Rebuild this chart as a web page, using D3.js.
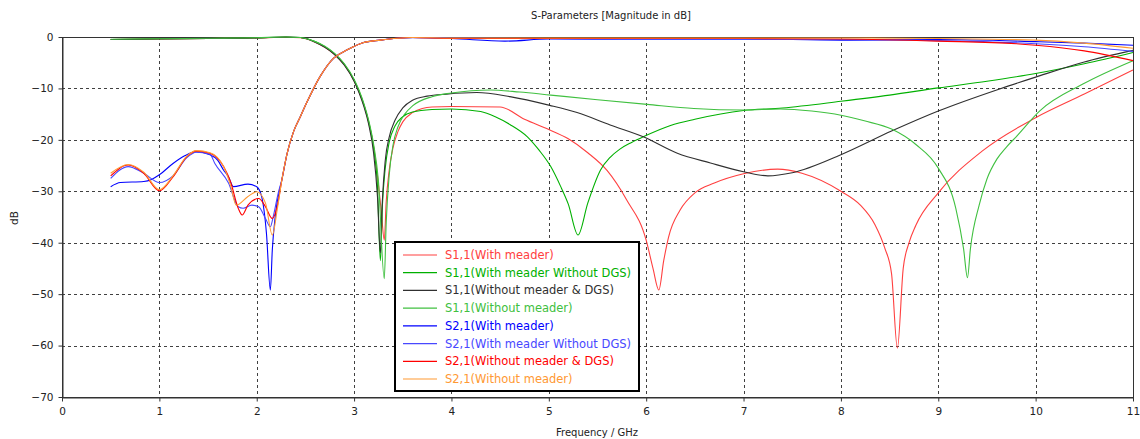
<!DOCTYPE html>
<html>
<head>
<meta charset="utf-8">
<script src="https://cdn.jsdelivr.net/npm/d3@7/dist/d3.min.js"></script>
<style>
  html, body { margin: 0; padding: 0; background: #fff; }
  svg { display: block; font-family: "DejaVu Sans", Verdana, sans-serif; }
</style>
</head>
<body>
<svg id="chart" width="1140" height="439"></svg>
<script>
// ---------- data (frequency GHz, magnitude dB) ----------
const xTicks = [0,1,2,3,4,5,6,7,8,9,10,11];
const yTicks = [0,-10,-20,-30,-40,-50,-60,-70];

const seriesNames = [
  "S1,1(With meader)",
  "S1,1(With meader Without DGS)",
  "S1,1(Without meader & DGS)",
  "S1,1(Without meader)",
  "S2,1(With meader)",
  "S2,1(With meader Without DGS)",
  "S2,1(Without meader & DGS)",
  "S2,1(Without meader)"
];
const seriesColors = ["#ff4040","#00b000","#303030","#40c040","#0000ff","#4848ff","#ff0000","#ff9933"];

const s11WithMeader = [
  [0.5,-0.5],[1.0,-0.4],[1.5,-0.3],[2.0,-0.2],[2.3,-0.05],[2.45,-0.15],[2.6,-1.0],[2.7,-2.0],[2.8,-3.4],
  [2.9,-5.4],[3.0,-8.5],[3.05,-10.6],[3.1,-13.2],[3.15,-16.6],[3.2,-21.2],[3.24,-27],[3.28,-34],[3.31,-39.5],
  [3.33,-32],[3.36,-26],[3.4,-21.5],[3.45,-18.4],[3.5,-16.5],[3.6,-14.7],[3.7,-13.9],[3.8,-13.6],[4.0,-13.5],
  [4.5,-13.6],[4.75,-16],[5.0,-18],[5.2,-19.8],[5.4,-22.5],
  [5.6,-26],[5.8,-31.7],[6.0,-39.5],[6.07,-45],[6.13,-49.2],[6.18,-43.5],[6.23,-38.9],[6.35,-33.6],
  [6.5,-30.3],[6.7,-28.4],[7.0,-26.6],[7.35,-25.7],[7.6,-26.5],[8.0,-30],[8.2,-32.7],[8.35,-36.5],
  [8.45,-41],[8.52,-46],[8.58,-60.5],[8.64,-45],[8.7,-40],[8.77,-36.6],[9.0,-30.3],[9.45,-22.2],
  [10.0,-15.7],[10.5,-11.1],[11.0,-6.4]
];
const s11WithMeaderNoDGS = [
  [0.5,-0.5],[1.0,-0.35],[1.5,-0.3],[2.0,-0.15],[2.3,0],[2.45,-0.1],[2.6,-0.9],[2.7,-1.9],[2.8,-3.3],
  [2.9,-5.3],[3.0,-8.4],[3.05,-10.5],[3.1,-13.1],[3.15,-16.5],[3.2,-21.5],[3.24,-29],[3.27,-43.5],
  [3.29,-33],[3.32,-25.5],[3.36,-20.5],[3.42,-17.3],[3.5,-15.5],[3.6,-14.6],[3.8,-14.1],[4.0,-14.0],
  [4.3,-14.5],[4.45,-15.5],[4.6,-17],[4.78,-19.4],
  [4.9,-22],[5.02,-25.2],[5.12,-29],[5.2,-32.5],[5.3,-38.5],[5.4,-32.3],[5.53,-25.9],[5.63,-23.4],
  [5.73,-21.8],[5.85,-20.5],[5.97,-19.4],[6.25,-17.2],[6.5,-16],[7.0,-14.3],[7.4,-13.8],[8.0,-12.5],
  [8.5,-11.3],[9.0,-9.9],[9.5,-8.6],[10.0,-7.1],[10.5,-5.2],[11.0,-3.0]
];
const s11WithoutMeaderDGS = [
  [0.5,-0.5],[1.0,-0.4],[1.5,-0.3],[2.0,-0.2],[2.3,0],[2.45,-0.1],[2.6,-1.0],[2.7,-2.0],[2.8,-3.4],
  [2.9,-5.5],[3.0,-8.6],[3.05,-10.8],[3.1,-13.5],[3.15,-17],[3.2,-22.5],[3.24,-31],[3.27,-42],
  [3.29,-32],[3.32,-24],[3.36,-19.5],[3.42,-16.2],[3.5,-13.8],[3.6,-12.3],[3.75,-11.5],[3.95,-11.1],
  [4.26,-10.8],[4.6,-11.6],[5.01,-13.3],[5.29,-14.7],
  [5.63,-17.1],[5.97,-19.4],[6.32,-22.6],[6.66,-24.5],[7.0,-26.2],[7.25,-27.0],[7.5,-26.4],[8.0,-22.9],
  [8.52,-18.3],[9.0,-14.4],[9.63,-10.1],[10.0,-7.8],[10.49,-4.9],[11.0,-2.6]
];
const s11WithoutMeader = [
  [0.5,-0.45],[1.0,-0.35],[1.5,-0.25],[2.0,-0.15],[2.3,0],[2.45,-0.1],[2.6,-0.9],[2.7,-1.8],[2.8,-3.2],
  [2.9,-5.2],[3.0,-8.2],[3.05,-10.3],[3.1,-12.9],[3.15,-16.2],[3.2,-20.8],[3.25,-28],[3.31,-47],
  [3.33,-36],[3.36,-27],[3.4,-21],[3.45,-17.5],[3.52,-15],[3.6,-13.4],[3.8,-11.6],[4.0,-10.9],
  [4.4,-10.3],[4.7,-10.7],[5.02,-11.3],[5.5,-12.2],
  [6.01,-13.1],[6.49,-13.9],[7.0,-14.2],[7.38,-14.0],[7.7,-14.4],[8.0,-15.2],[8.24,-16.3],[8.52,-17.9],
  [8.77,-20.9],[9.0,-25.5],[9.18,-33.3],[9.26,-41.2],[9.3,-46.8],[9.33,-41.2],[9.42,-32.7],[9.5,-27.6],
  [9.6,-23.8],[9.7,-21.4],[9.8,-19.4],[10.04,-14.4],[10.49,-9.1],[11.0,-4.6]
];
const s21WithMeader = [
  [0.5,-29.1],[0.6,-28.3],[0.84,-28.1],[0.92,-27.7],[1.0,-26.8],[1.14,-24.6],[1.26,-23.1],[1.37,-22.3],
  [1.52,-22.9],[1.6,-24],[1.66,-25.9],[1.71,-27.2],[1.76,-29.1],[1.91,-28.6],[2.0,-29.1],[2.05,-31],
  [2.1,-38.2],[2.14,-49.2],[2.16,-41.4],[2.19,-34.9],[2.26,-27.6],[2.31,-22.8],[2.38,-18.3],[2.45,-15.4],
  [2.51,-12.9],[2.65,-7.7],[2.79,-4.1],[2.93,-2.5],[3.09,-1.1],[3.27,-0.6],[3.44,-0.25],[3.6,-0.1],[4.0,-0.3],
  [4.55,-0.8],[5.0,-0.4],[6.0,-0.5],[7.0,-0.4],[8.0,-0.6],[9.0,-0.5],[10.0,-0.9],[10.5,-1.2],[11.0,-1.6]
];
const s21WithMeaderNoDGS = [
  [0.5,-27.5],[0.68,-25.2],[0.84,-26.5],[1.0,-28.3],[1.14,-27],[1.28,-23.5],[1.38,-22.4],[1.52,-22.8],
  [1.57,-24.6],[1.71,-28.4],[1.81,-33],[1.86,-33.3],[1.95,-32.7],[2.02,-33],[2.09,-35.3],[2.14,-36.9],
  [2.17,-34.9],[2.22,-30.4],[2.26,-27.6],[2.31,-22.8],[2.38,-18.3],[2.45,-15.4],[2.51,-12.9],[2.65,-7.7],
  [2.79,-4.1],[2.93,-2.5],[3.09,-1.1],[3.27,-0.6],[3.44,-0.25],[3.6,-0.15],[4.0,-0.2],[5.0,-0.3],
  [6.0,-0.5],[7.0,-0.5],[8.0,-0.5],[9.0,-0.7],[10.0,-1.3],[10.5,-1.9],[11.0,-2.8]
];
const s21WithoutMeaderDGS = [
  [0.5,-27],[0.68,-24.9],[0.84,-26.5],[1.0,-29.9],[1.14,-27.2],[1.28,-23.3],[1.38,-22.2],[1.52,-22.6],
  [1.66,-25.2],[1.73,-28.1],[1.81,-33.3],[1.85,-34.6],[1.91,-32.7],[2.02,-31.4],[2.09,-33],[2.16,-35.3],
  [2.21,-33],[2.26,-27.6],[2.31,-22.8],[2.38,-18.3],[2.45,-15.4],[2.51,-12.9],[2.65,-7.7],[2.79,-4.1],
  [2.93,-2.5],[3.09,-1.1],[3.27,-0.6],[3.44,-0.25],[3.6,-0.1],[4.0,-0.3],[5.0,-0.3],[6.0,-0.3],[7.0,-0.3],
  [8.0,-0.4],[9.0,-0.8],[9.8,-1.3],[10.0,-1.6],[10.5,-2.7],[11.0,-4.6]
];
const s21WithoutMeader = [
  [0.5,-26.5],[0.68,-24.8],[0.84,-26.3],[1.0,-29.7],[1.14,-27],[1.28,-23.2],[1.38,-22.1],[1.52,-22.5],
  [1.66,-25.2],[1.73,-28.8],[1.79,-32.7],[1.91,-31],[2.0,-30.1],[2.09,-32.3],[2.16,-38.5],[2.21,-33.6],
  [2.26,-27.6],[2.31,-22.8],[2.38,-18.3],[2.45,-15.4],[2.51,-12.9],[2.65,-7.7],[2.79,-4.1],[2.93,-2.5],
  [3.09,-1.1],[3.27,-0.6],[3.44,-0.25],[3.6,-0.1],[4.0,-0.2],[5.0,-0.2],[6.0,-0.2],[7.0,-0.2],[8.0,-0.2],
  [9.0,-0.3],[10.0,-0.6],[10.5,-1.2],[11.0,-2.2]
];
const seriesData = [s11WithMeader, s11WithMeaderNoDGS, s11WithoutMeaderDGS, s11WithoutMeader,
                    s21WithMeader, s21WithMeaderNoDGS, s21WithoutMeaderDGS, s21WithoutMeader];

// ---------- drawing ----------
const svg = d3.select("#chart");
const x = d3.scaleLinear().domain([0, 11]).range([62, 1133]);
const y = d3.scaleLinear().domain([-70, 0]).range([397, 37]);

// grid
const grid = svg.append("g").attr("stroke", "#404040").attr("stroke-width", 1)
  .attr("stroke-dasharray", "3,3").attr("shape-rendering", "crispEdges");
grid.selectAll(".gx").data(xTicks.filter(d => d > 0 && d < 11)).enter().append("line")
  .attr("x1", d => Math.round(x(d)) + 0.5).attr("x2", d => Math.round(x(d)) + 0.5)
  .attr("y1", y(0)).attr("y2", y(-70));
grid.selectAll(".gy").data(yTicks.filter(d => d < 0 && d > -70)).enter().append("line")
  .attr("y1", d => Math.round(y(d)) + 0.5).attr("y2", d => Math.round(y(d)) + 0.5)
  .attr("x1", x(0)).attr("x2", x(11));

// plot frame
svg.append("rect").attr("x", x(0) + 0.5).attr("y", y(0) + 0.5)
  .attr("width", x(11) - x(0)).attr("height", y(-70) - y(0))
  .attr("fill", "none").attr("stroke", "#333").attr("stroke-width", 1)
  .attr("shape-rendering", "crispEdges");

// axes
const xAxis = svg.append("g").attr("transform", `translate(0,${y(-70) + 0.5})`)
  .call(d3.axisBottom(x).tickValues(xTicks).tickSize(4).tickSizeOuter(0).tickPadding(6).tickFormat(d3.format("d")));
const yAxis = svg.append("g").attr("transform", `translate(${x(0) + 0.5},0)`)
  .call(d3.axisLeft(y).tickValues(yTicks).tickSize(4).tickSizeOuter(0).tickPadding(5).tickFormat(d3.format("d")));
[xAxis, yAxis].forEach(a => {
  a.selectAll("path.domain").attr("stroke", "#333");
  a.selectAll(".tick line").attr("stroke", "#333");
  a.selectAll("text").attr("fill", "#222").style("font-size", "10.5px")
    .style("font-family", "'DejaVu Sans', Verdana, sans-serif");
});

// curves
const line = d3.line().x(d => x(d[0])).y(d => y(d[1])).curve(d3.curveMonotoneX);
const clipId = "plotclip";
svg.append("clipPath").attr("id", clipId).append("rect")
  .attr("x", x(0)).attr("y", y(0) - 1).attr("width", x(11) - x(0) + 1).attr("height", y(-70) - y(0) + 2);
const curves = svg.append("g").attr("clip-path", `url(#${clipId})`);
seriesData.forEach((s, i) => {
  curves.append("path").datum(s).attr("d", line)
    .attr("fill", "none").attr("stroke", seriesColors[i]).attr("stroke-width", 1.1);
});

// titles
svg.append("text").attr("x", 611).attr("y", 19).attr("text-anchor", "middle")
  .attr("fill", "#222").style("font-size", "10px").text("S-Parameters [Magnitude in dB]");
svg.append("text").attr("x", 597).attr("y", 436).attr("text-anchor", "middle")
  .attr("fill", "#222").style("font-size", "10px").text("Frequency / GHz");
svg.append("text").attr("transform", "translate(18,218) rotate(-90)").attr("text-anchor", "middle")
  .attr("fill", "#222").style("font-size", "10.5px").text("dB");

// legend
const lg = svg.append("g");
lg.append("rect").attr("x", 395).attr("y", 242).attr("width", 244).attr("height", 149)
  .attr("fill", "#fff").attr("stroke", "#000").attr("stroke-width", 2);
const rowY = d3.scalePoint().domain(seriesNames).range([255, 379]);
seriesNames.forEach((name, i) => {
  const yy = rowY(name);
  lg.append("line").attr("x1", 403).attr("x2", 437).attr("y1", yy).attr("y2", yy)
    .attr("stroke", seriesColors[i]).attr("stroke-width", 1.2);
  lg.append("text").attr("x", 445).attr("y", yy + 4).attr("fill", seriesColors[i])
    .style("font-size", "11.5px").text(name);
});
</script>
</body>
</html>
